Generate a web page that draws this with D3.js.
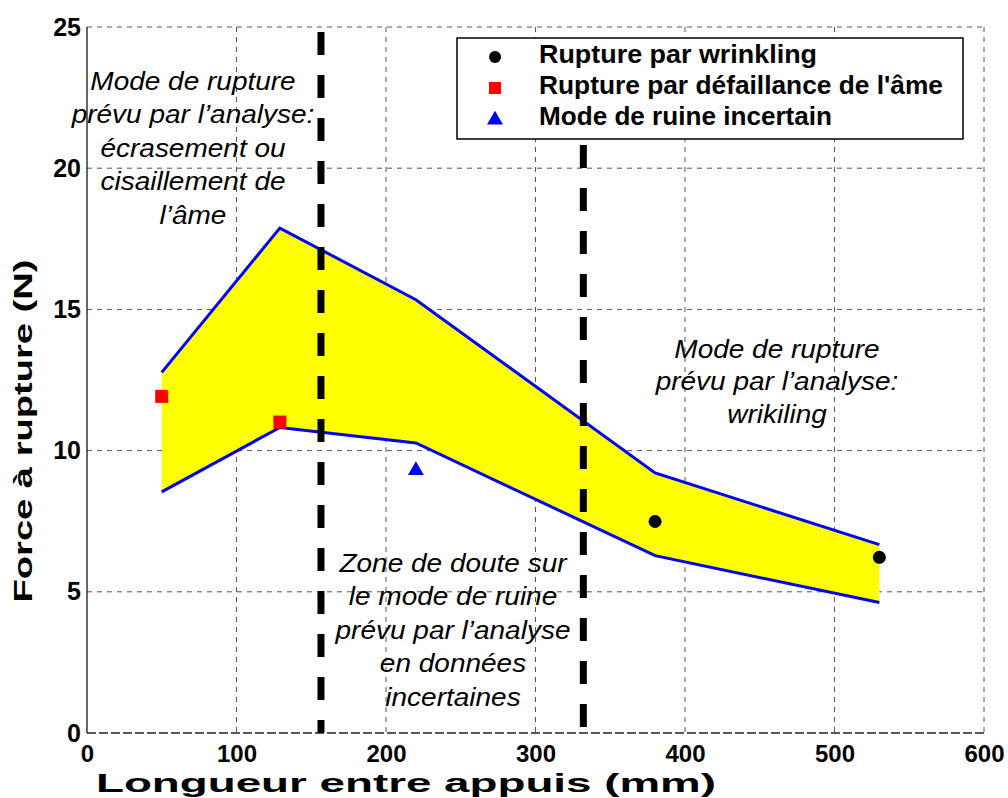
<!DOCTYPE html>
<html><head><meta charset="utf-8">
<script src="https://cdn.jsdelivr.net/npm/d3@7"></script>
<style>body{margin:0;background:#fff}svg{display:block}text{font-family:"Liberation Sans",Arial,sans-serif}</style>
</head><body><svg id="c" width="1008" height="798"></svg>
<script>
const bandX = [50, 129, 220, 380, 530];
const upperY = [12.77, 17.88, 15.34, 9.21, 6.67];
const lowerY = [8.54, 10.82, 10.27, 6.28, 4.62];
const wrinklingX = [380, 530];
const wrinklingY = [7.49, 6.22];
const webX = [50, 129];
const webY = [11.92, 11.01];
const uncertainX = [220];
const uncertainY = [9.3];
const dividers = [156.5, 332];
const xTicks = [0, 100, 200, 300, 400, 500, 600];
const yTicks = [0, 5, 10, 15, 20, 25];
const legendLabels = ["Rupture par wrinkling", "Rupture par défaillance de l'âme", "Mode de ruine incertain"];
const noteLeft = ["Mode de rupture", "prévu par l’analyse:", "écrasement ou", "cisaillement de", "l’âme"];
const noteMid = ["Zone de doute sur", "le mode de ruine", "prévu par l’analyse", "en données", "incertaines"];
const noteRight = ["Mode de rupture", "prévu par l’analyse:", "wrikiling"];

const svg = d3.select("#c");
const L = 87, R = 984, T = 27, B = 733;
const x = d3.scaleLinear().domain([0, 600]).range([L, R]);
const y = d3.scaleLinear().domain([0, 25]).range([B, T]);

// grid
const g = svg.append("g");
g.selectAll(".gx").data(xTicks.filter(d => d > 0)).join("line")
  .attr("x1", d => x(d)).attr("x2", d => x(d)).attr("y1", T).attr("y2", B)
  .attr("stroke", "#555").attr("stroke-width", 1).attr("stroke-dasharray", "5,5");
g.selectAll(".gy").data(yTicks.filter(d => d > 0)).join("line")
  .attr("y1", d => y(d)).attr("y2", d => y(d)).attr("x1", L).attr("x2", R)
  .attr("stroke", "#555").attr("stroke-width", 1).attr("stroke-dasharray", "5,5");

// band
const pts = bandX.map((d, i) => ({x: d, u: upperY[i], l: lowerY[i]}));
svg.append("path").datum(pts)
  .attr("d", d3.area().x(d => x(d.x)).y0(d => y(d.l)).y1(d => y(d.u)))
  .attr("fill", "#ffff00");
[upperY, lowerY].forEach(arr => {
  svg.append("path").datum(bandX.map((d, i) => [d, arr[i]]))
    .attr("d", d3.line().x(d => x(d[0])).y(d => y(d[1])))
    .attr("fill", "none").attr("stroke", "#0000ff").attr("stroke-width", 3);
});

// axes
svg.append("line").attr("x1", L).attr("x2", L).attr("y1", T).attr("y2", B).attr("stroke", "#000").attr("stroke-width", 1.2);
svg.append("line").attr("x1", L).attr("x2", R).attr("y1", B).attr("y2", B).attr("stroke", "#222").attr("stroke-width", 1.5).attr("stroke-dasharray", "9,3");
const xa = svg.append("g").attr("transform", `translate(0,${B})`)
  .call(d3.axisBottom(x).tickValues(xTicks).tickSize(0).tickPadding(12).tickFormat(d3.format("d")));
xa.select(".domain").remove();
xa.selectAll("text").attr("font-size", 24).attr("font-weight", "bold").attr("fill", "#000").attr("font-family", "Liberation Sans, Arial");
const ya = svg.append("g").attr("transform", `translate(${L},0)`)
  .call(d3.axisLeft(y).tickValues(yTicks).tickSize(0).tickPadding(6).tickFormat(d3.format("d")));
ya.select(".domain").remove();
ya.selectAll("text").attr("font-size", 25).attr("font-weight", "bold").attr("fill", "#000").attr("font-family", "Liberation Sans, Arial");

// dividers
const divStart = [32, 59];
svg.selectAll(".div").data(dividers).join("line")
  .attr("x1", d => x(d)).attr("x2", d => x(d)).attr("y1", (d, i) => divStart[i]).attr("y2", B)
  .attr("stroke", "#000").attr("stroke-width", 7).attr("stroke-dasharray", "23,20");

// markers
svg.selectAll(".wr").data(wrinklingX).join("circle")
  .attr("cx", d => x(d)).attr("cy", (d, i) => y(wrinklingY[i])).attr("r", 6.5).attr("fill", "#000");
svg.selectAll(".wb").data(webX).join("rect")
  .attr("x", d => x(d) - 6.5).attr("y", (d, i) => y(webY[i]) - 6.5).attr("width", 13).attr("height", 13).attr("fill", "#ff0000");
const tri = d3.symbol().type(d3.symbolTriangle).size(110);
svg.selectAll(".un").data(uncertainX).join("path")
  .attr("d", tri).attr("transform", (d, i) => `translate(${x(d)},${y(uncertainY[i])})`).attr("fill", "#0000ff");

// annotations
function note(lines, cx, y0, dy) {
  const t = svg.append("text").attr("text-anchor", "middle").attr("font-size", 25).attr("font-style", "italic").attr("fill", "#000")
    .attr("transform", `translate(${cx},0) scale(1.12,1)`);
  lines.forEach((s, i) => t.append("tspan").attr("x", 0).attr("y", y0 + i * dy).text(s));
}
note(noteLeft, 193, 90, 33.5);
note(noteMid, 453, 572, 33.5);
note(noteRight, 777, 358, 32.5);

// legend
const lg = svg.append("g");
lg.append("rect").attr("x", 457).attr("y", 38).attr("width", 506).attr("height", 101).attr("fill", "#fff").attr("stroke", "#000").attr("stroke-width", 1.5);
const ly = [57, 88, 120];
const lBase = [63, 94, 125];
const lWidth = [278, 404, 293];
lg.append("circle").attr("cx", 495).attr("cy", ly[0]).attr("r", 6).attr("fill", "#000");
lg.append("rect").attr("x", 489).attr("y", ly[1] - 6).attr("width", 12).attr("height", 12).attr("fill", "#ff0000");
lg.append("path").attr("d", tri).attr("transform", `translate(495,${ly[2]})`).attr("fill", "#0000ff");
lg.selectAll(".lt").data(legendLabels).join("text")
  .attr("x", 539).attr("y", (d, i) => lBase[i]).attr("font-size", 26).attr("font-weight", "bold")
  .attr("textLength", (d, i) => lWidth[i]).attr("lengthAdjust", "spacingAndGlyphs").text(d => d);

// axis labels
svg.append("text").attr("x", 406).attr("y", 792).attr("text-anchor", "middle").attr("font-size", 25).attr("font-weight", "bold")
  .attr("textLength", 620).attr("lengthAdjust", "spacingAndGlyphs").text("Longueur entre appuis (mm)");
svg.append("text").attr("transform", "translate(32,431) rotate(-90)").attr("text-anchor", "middle").attr("font-size", 26).attr("font-weight", "bold")
  .attr("textLength", 343).attr("lengthAdjust", "spacingAndGlyphs").text("Force à rupture (N)");
</script></body></html>
